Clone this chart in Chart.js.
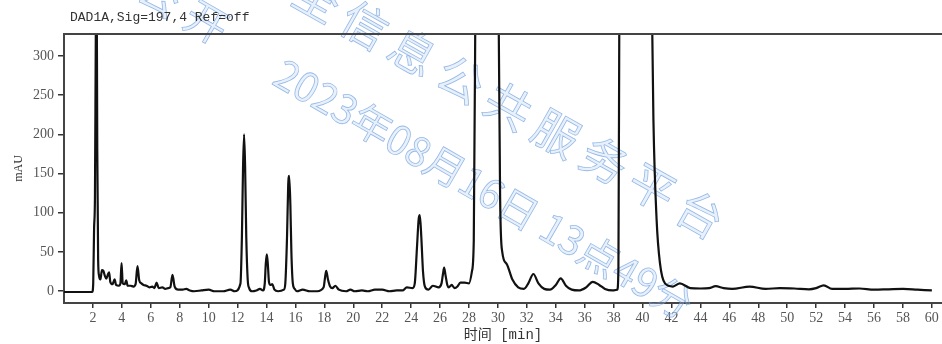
<!DOCTYPE html>
<html>
<head>
<meta charset="utf-8">
<title>DAD1A chromatogram</title>
<script src="https://cdn.jsdelivr.net/npm/chart.js@4.4.1/dist/chart.umd.min.js"></script>
<style>
  html, body { margin: 0; padding: 0; background: #fff; }
  canvas { display: block; }
</style>
</head>
<body>
<canvas id="chromChart" width="942" height="344"></canvas>
<script>
// Signal trace (retention time in min, absorbance in mAU)
const timeMin = [
  0, 1.0, 1.95, 2.02, 2.08, 2.14, 2.2, 2.25, 2.3, 2.36, 2.42, 2.52, 2.62, 2.72, 2.82, 2.92,
  3.05, 3.12, 3.2, 3.35, 3.5, 3.6, 3.8, 3.9, 3.98, 4.06, 4.2, 4.3, 4.4, 4.6, 4.8, 4.95,
  5.08, 5.2, 5.35, 5.5, 5.7, 5.9, 6.1, 6.25, 6.4, 6.55, 6.8, 7.0, 7.2, 7.35, 7.5, 7.65,
  7.9, 8.2, 8.45, 8.7, 9.0, 9.5, 10.0, 10.4, 11.0, 11.5, 11.8,
  12.2, 12.3, 12.38, 12.45, 12.52, 12.6, 12.7, 12.8,
  13.0, 13.3, 13.55, 13.75, 13.88, 13.95, 14.02, 14.09, 14.17, 14.27, 14.4, 14.55, 14.8,
  15.2, 15.3, 15.42, 15.5, 15.57, 15.65, 15.72, 15.82, 15.95,
  16.1, 16.5, 17.0, 17.5, 17.95, 18.05, 18.13, 18.25, 18.4, 18.55, 18.76, 19.0, 19.5, 19.8, 20.1, 20.6, 21.0, 21.5,
  22.0, 22.5, 23.0, 23.4, 23.7, 24.1, 24.25, 24.4, 24.52, 24.6, 24.7, 24.82, 24.95, 25.2, 25.5, 25.9,
  26.1, 26.2, 26.28, 26.38, 26.5,
  26.6, 26.8, 27.0, 27.2, 27.4, 27.7, 28.0, 28.2, 28.33, 28.45, 29.2, 30.03, 30.15, 30.3, 30.6, 31.0,
  31.4, 31.8, 32.1, 32.45, 32.8, 33.2, 33.6, 34.0, 34.34, 34.7, 35.1, 35.6, 36.1, 36.55, 37.0, 37.4,
  37.9, 38.25, 38.33, 38.4, 39.5, 40.62, 40.75, 40.97, 41.2, 41.55, 42.1, 42.58, 43.3, 44.0, 44.6, 45.05,
  45.6, 46.2, 47.4, 48.5, 49.5, 50.5, 51.5, 52.0, 52.53, 53.1, 54.0, 55.0, 56.0, 57.0, 58.0, 59.0,
  60.0
];
const signalMAU = [
  -1, -1, -1, 10, 80, 120, 330, 420, 180, 40, 20, 15, 27, 26, 20, 16,
  22, 24, 12, 9, 15, 8, 7, 10, 36, 10, 9, 14, 7, 7, 6, 9,
  32, 14, 10, 8, 7, 5, 6, 4, 11, 4, 5, 3, 4, 5, 21, 6,
  2, 2, 3, 1, 0, 1, 2, 0, 0, 2, 0,
  10, 70, 160, 200, 160, 70, 15, 4,
  0, 1, 3, 1, 10, 35, 47, 35, 12, 8, 9, 2, 0,
  2, 10, 70, 135, 147, 110, 50, 10, 3,
  0, 2, 0, 0, 5, 18, 26, 15, 6, 4, 7, 2, 0, 2, 0, 1, 0, 2,
  2, 0, 1, 1, 5, 4, 10, 55, 92, 97, 70, 25, 6, 2, 7, 5,
  10, 22, 30, 20, 8,
  5, 8, 4, 6, 11, 11, 10, 25, 65, 400, 3000, 400, 120, 50, 35, 15,
  5, 3, 10, 22, 10, 3, 2, 8, 16.5, 7, 2, 1, 5, 12, 8, 3,
  1, 2, 30, 400, 3000, 400, 218, 91, 36, 10, 6, 10, 4, 3.5, 4, 6.5,
  4, 3, 6, 3, 4, 3.5, 2.5, 4, 7.6, 3, 3, 3.5, 2, 2.5, 3, 2,
  1
];

// Axis settings
const xTicksStep = 2;
const yTicksStep = 50;
const chartTitle = 'DAD1A,Sig=197,4 Ref=off';
const xTitle = '时间 [min]';
const yTitle = 'mAU';

// Watermark texts
const stampText = '2023年08月16日 13点49分';
const platformText = '全信息公共服务平台';
const openText = '公开';

const points = timeMin.map((t, i) => ({ x: t, y: signalMAU[i] }));

// Header text + top frame line
const frameAndTitle = {
    id: 'frameAndTitle',
    afterDraw(chart) {
        const c = chart.ctx;
        const a = chart.chartArea;
        c.save();
        c.strokeStyle = '#444';
        c.lineWidth = 2;
        c.beginPath();
        c.moveTo(a.left - 1, a.top);
        c.lineTo(a.right, a.top);
        c.stroke();
        c.fillStyle = '#333';
        c.font = '13px "Liberation Mono"';
        c.textBaseline = 'middle';
        c.fillText(chartTitle, 70, 18);
        c.restore();
    }
};

// Faint blue diagonal watermark behind the trace
function drawRun(c, text, x, y, step, angle, size) {
    c.save();
    c.translate(x, y);
    c.rotate(angle * Math.PI / 180);
    c.font = size + 'px "Noto Sans CJK SC"';
    c.textAlign = 'center';
    c.textBaseline = 'middle';
    [...text].forEach((ch, i) => {
        c.fillText(ch, i * step, 0);
        c.strokeText(ch, i * step, 0);
    });
    c.restore();
}

const watermark = {
    id: 'watermark',
    beforeDatasetsDraw(chart) {
        const c = chart.ctx;
        c.save();
        c.fillStyle = 'rgba(180, 208, 243, 0.3)';
        c.strokeStyle = 'rgba(110, 158, 222, 0.7)';
        c.lineWidth = 0.8;

        // date stamp
        c.save();
        c.translate(278, 70);
        c.rotate(30 * Math.PI / 180);
        c.font = '40px "Noto Sans CJK SC"';
        c.textBaseline = 'middle';
        c.fillText(stampText, 0, 0);
        c.strokeText(stampText, 0, 0);
        c.restore();

        drawRun(c, platformText, 317, -2, 55, 29.4, 46);
        drawRun(c, openText, 160, -5, 54, 30, 42);
        c.restore();
    }
};

const ctx = document.getElementById('chromChart').getContext('2d');

new Chart(ctx, {
    type: 'line',
    data: {
        datasets: [{
            data: points,
            borderColor: '#111',
            borderWidth: 2.2,
            pointRadius: 0,
            fill: false,
            cubicInterpolationMode: 'monotone'
        }]
    },
    options: {
        responsive: false,
        animation: false,
        layout: { padding: { top: 34, right: 0, bottom: 0, left: 0 } },
        plugins: {
            legend: { display: false },
            tooltip: { enabled: false }
        },
        scales: {
            x: {
                type: 'linear',
                min: 0,
                max: 60.7,
                afterFit(scale) { scale.height = 41; },
                ticks: {
                    stepSize: xTicksStep,
                    includeBounds: false,
                    autoSkip: false,
                    maxRotation: 0,
                    padding: 2,
                    color: '#555',
                    font: { family: 'Liberation Serif', size: 14 },
                    callback: v => v === 0 ? '' : v
                },
                grid: {
                    drawOnChartArea: false,
                    tickLength: 5,
                    lineWidth: 1.5,
                    color: c => (c.tick && c.tick.value === 0) ? 'rgba(0,0,0,0)' : '#333'
                },
                border: { color: '#444', width: 2 },
                title: {
                    display: true,
                    text: xTitle,
                    color: '#333',
                    padding: { top: 0, bottom: 0 },
                    font: { family: '"Liberation Mono", "Noto Sans CJK SC"', size: 14 }
                }
            },
            y: {
                type: 'linear',
                min: -15,
                max: 328,
                afterFit(scale) { scale.width = 64; },
                ticks: {
                    stepSize: yTicksStep,
                    includeBounds: false,
                    padding: 4,
                    color: '#555',
                    font: { family: 'Liberation Serif', size: 14 }
                },
                grid: { drawOnChartArea: false, tickLength: 6, color: '#333', lineWidth: 1.5 },
                border: { color: '#444', width: 2 },
                title: {
                    display: true,
                    text: yTitle,
                    color: '#333',
                    padding: { top: 12, bottom: 0 },
                    font: { family: 'Liberation Serif', size: 12 }
                }
            }
        }
    },
    plugins: [watermark, frameAndTitle]
});
</script>
</body>
</html>
